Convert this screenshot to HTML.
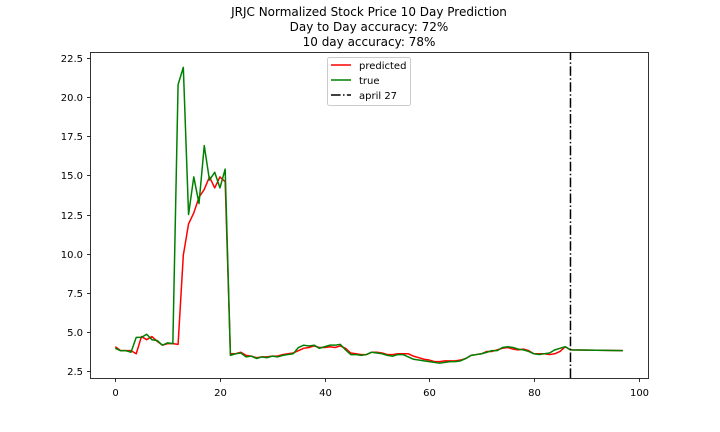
<!DOCTYPE html>
<html>
<head>
<meta charset="utf-8">
<style>
html,body{margin:0;padding:0;background:#fff;width:720px;height:432px;overflow:hidden}
svg{display:block}
text{font-family:"DejaVu Sans","Liberation Sans",sans-serif;fill:#000}
</style>
</head>
<body>
<svg id="chart" width="720" height="432" viewBox="0 0 720 432" xmlns="http://www.w3.org/2000/svg">
  <text x="369" y="16" font-size="12" text-anchor="middle">JRJC Normalized Stock Price 10 Day Prediction</text>
  <text x="369" y="31" font-size="12" text-anchor="middle">Day to Day accuracy: 72%</text>
  <text x="369" y="46" font-size="12" text-anchor="middle">10 day accuracy: 78%</text>
  <g id="ticks"></g>
  <g id="series"></g>
  <rect x="90.5" y="52.5" width="558" height="326" fill="none" stroke="#000" stroke-width="0.8"/>
  <g>
    <rect x="327.5" y="57.5" width="83" height="48" rx="2" fill="#fff" fill-opacity="0.8" stroke="#ccc" stroke-width="1"/>
    <line x1="331" x2="351" y1="65" y2="65" stroke="#f00" stroke-width="1.5"/>
    <text x="359" y="69" font-size="10">predicted</text>
    <line x1="331" x2="351" y1="80" y2="80" stroke="#008000" stroke-width="1.5"/>
    <text x="359" y="84" font-size="10">true</text>
    <line x1="331" x2="351" y1="95" y2="95" stroke="#000" stroke-width="1.5" stroke-dasharray="9.6 2.4 1.5 2.4"/>
    <text x="359" y="99" font-size="10">april 27</text>
  </g>
</svg>
<script>
const xTickLabels = [0, 20, 40, 60, 80, 100];
const yTickLabels = ["2.5", "5.0", "7.5", "10.0", "12.5", "15.0", "17.5", "20.0", "22.5"];
const dayIndex = [0,1,2,3,4,5,6,7,8,9,10,11,12,13,14,15,16,17,18,19,20,21,22,23,24,25,26,27,28,29,30,31,32,33,34,35,36,37,38,39,40,41,42,43,44,45,46,47,48,49,50,51,52,53,54,55,56,57,58,59,60,61,62,63,64,65,66,67,68,69,70,71,72,73,74,75,76,77,78,79,80,81,82,83,84,85,86,87,97];
const predictedValues = [4.05,3.8,3.8,3.8,3.6,4.7,4.5,4.7,4.4,4.15,4.25,4.25,4.2,9.9,11.9,12.6,13.6,14.1,14.9,14.2,14.9,14.6,3.6,3.6,3.7,3.5,3.45,3.35,3.4,3.4,3.45,3.45,3.55,3.6,3.65,3.8,3.95,4.0,4.1,4.0,4.0,4.05,4.0,4.1,3.95,3.65,3.6,3.55,3.55,3.7,3.7,3.65,3.55,3.55,3.6,3.6,3.6,3.45,3.35,3.25,3.2,3.1,3.1,3.15,3.15,3.15,3.2,3.3,3.5,3.55,3.6,3.75,3.75,3.85,3.95,4.0,3.9,3.85,3.9,3.8,3.6,3.6,3.6,3.55,3.6,3.75,4.05,3.85,3.8];
const trueValues = [3.95,3.8,3.8,3.7,4.65,4.65,4.85,4.5,4.45,4.15,4.3,4.25,20.8,21.9,12.5,14.9,13.2,16.9,14.7,15.2,14.2,15.4,3.5,3.6,3.65,3.4,3.45,3.3,3.4,3.35,3.45,3.4,3.5,3.55,3.6,4.0,4.15,4.1,4.15,3.95,4.05,4.15,4.15,4.2,3.85,3.55,3.55,3.5,3.55,3.7,3.65,3.6,3.5,3.45,3.55,3.55,3.4,3.25,3.2,3.15,3.1,3.05,3.0,3.05,3.1,3.1,3.15,3.3,3.5,3.55,3.6,3.7,3.8,3.8,4.0,4.05,4.0,3.9,3.85,3.75,3.6,3.55,3.6,3.65,3.85,3.95,4.05,3.85,3.8];
const marker = [87];

const NS = "http://www.w3.org/2000/svg";
const xScale = v => 115.3 + v * 5.232;
const yScale = v => 371 - (v - 2.5) * 15.65;
const ticks = document.getElementById("ticks");
const series = document.getElementById("series");

function mk(parent, tag, attrs) {
  const el = document.createElementNS(NS, tag);
  for (const k in attrs) el.setAttribute(k, attrs[k]);
  parent.appendChild(el);
  return el;
}

xTickLabels.forEach(t => {
  const x = Math.round(xScale(t)) + 0.5;
  const m = mk(ticks, "line", {x1: x, x2: x, y1: 378.5, y2: 382, stroke: "#000", "stroke-width": 0.8});
  
  
  const l = mk(ticks, "text", {x: x, y: 396, "font-size": 10, "text-anchor": "middle"});
  l.textContent = t;
  
  
});

yTickLabels.forEach(t => {
  const y = Math.round(yScale(parseFloat(t))) + 0.5;
  const m = mk(ticks, "line", {x1: 87, x2: 90.5, y1: y, y2: y, stroke: "#000", "stroke-width": 0.8});
  
  
  const l = mk(ticks, "text", {x: 83, y: y + 3.5, "font-size": 10, "text-anchor": "end"});
  l.textContent = t;
  
  
});

function pts(values) {
  return values.map((v, i) => xScale(dayIndex[i]).toFixed(2) + "," + yScale(v).toFixed(2)).join(" ");
}

const predictedLine = mk(series, "polyline", {points: pts(predictedValues), fill: "none", stroke: "#f00", "stroke-width": 1.5, "stroke-linejoin": "round"});



const trueLine = mk(series, "polyline", {points: pts(trueValues), fill: "none", stroke: "#008000", "stroke-width": 1.5, "stroke-linejoin": "round"});



const mx = xScale(marker[0]);
const markerLine = mk(series, "line", {x1: mx, x2: mx, y1: 378, y2: 52.5, stroke: "#000", "stroke-width": 1.5, "stroke-dasharray": "9.6 2.4 1.5 2.4"});


</script>
</body>
</html>
